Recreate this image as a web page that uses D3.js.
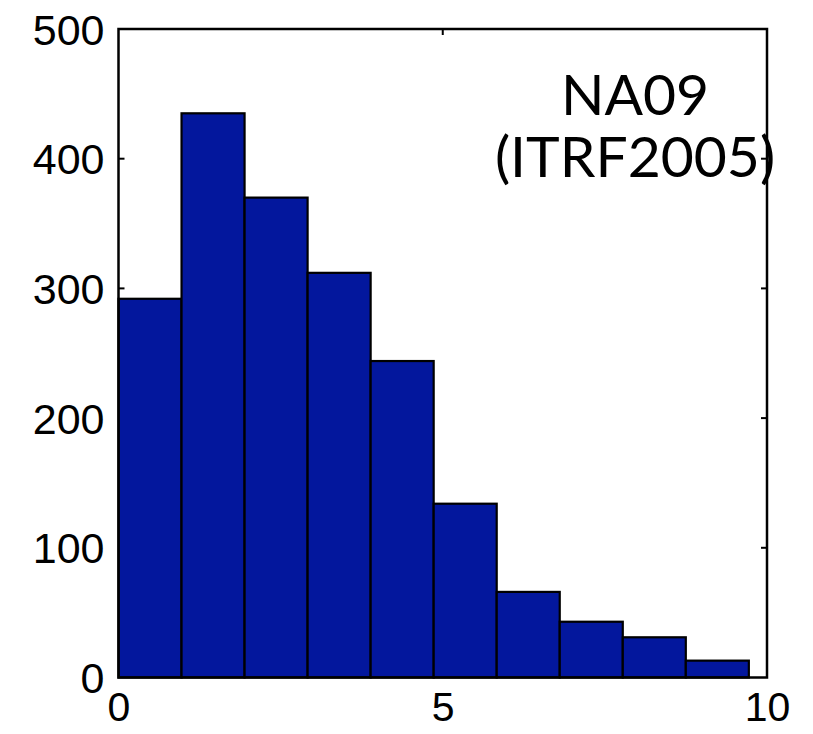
<!DOCTYPE html>
<html>
<head>
<meta charset="utf-8">
<script src="https://cdn.jsdelivr.net/npm/d3@7"></script>
<style>
  body { margin: 0; background: #fff; }
  .tick text { font-family: "Liberation Sans", Arial, sans-serif; }
</style>
</head>
<body>
<div id="chart"></div>
<script>
// histogram counts, bin width ~0.972 starting at 0
const binStart = 0,
    binWidth = 0.972;
const counts = [292, 435, 370, 312, 244, 134, 66, 43, 31, 13];
const xTicks = [0, 5, 10];
const yTicks = [0, 100, 200, 300, 400, 500];
const labelLines = ["NA09", "(ITRF2005)"];

const width = 813,
    height = 734;
const margin = {top: 29, right: 46, bottom: 56.5, left: 118.5};

let svg = d3.select('#chart').append('svg')
    .attr('width', width)
    .attr('height', height);

let x = d3.scaleLinear()
    .domain([0, 10])
    .range([margin.left, width - margin.right]);

let y = d3.scaleLinear()
    .domain([0, 500])
    .range([height - margin.bottom, margin.top]);

const bins = counts.map((c, i) => ({
    x0: binStart + i * binWidth,
    x1: binStart + (i + 1) * binWidth,
    value: c
}));

const tickLen = 6;

// inner ticks (matlab style) drawn first so bars sit on top
let g = svg.append('g');

g.selectAll('.ytl')
    .data(yTicks.slice(1, -1))
    .enter().append('line')
    .attr('x1', x(0)).attr('x2', x(0) + tickLen)
    .attr('y1', d => y(d)).attr('y2', d => y(d))
    .attr('stroke', '#000').attr('stroke-width', 2);

g.selectAll('.ytr')
    .data(yTicks.slice(1, -1))
    .enter().append('line')
    .attr('x1', x(10)).attr('x2', x(10) - tickLen)
    .attr('y1', d => y(d)).attr('y2', d => y(d))
    .attr('stroke', '#000').attr('stroke-width', 2);

g.selectAll('.xtt')
    .data(xTicks.slice(1, -1))
    .enter().append('line')
    .attr('x1', d => x(d)).attr('x2', d => x(d))
    .attr('y1', y(500)).attr('y2', y(500) + tickLen)
    .attr('stroke', '#000').attr('stroke-width', 2);

g.selectAll('.xtb')
    .data(xTicks.slice(1, -1))
    .enter().append('line')
    .attr('x1', d => x(d)).attr('x2', d => x(d))
    .attr('y1', y(0)).attr('y2', y(0) - tickLen)
    .attr('stroke', '#000').attr('stroke-width', 2);

// bars
svg.append('g')
    .selectAll('rect')
    .data(bins)
    .enter()
    .append('rect')
    .attr('x', d => x(d.x0))
    .attr('y', d => y(d.value))
    .attr('width', d => x(d.x1) - x(d.x0))
    .attr('height', d => y(0) - y(d.value))
    .attr('fill', '#03179d')
    .attr('stroke', '#000')
    .attr('stroke-width', 2.2);

// box
svg.append('rect')
    .attr('x', x(0))
    .attr('y', y(500))
    .attr('width', x(10) - x(0))
    .attr('height', y(0) - y(500))
    .attr('fill', 'none')
    .attr('stroke', '#000')
    .attr('stroke-width', 2.5);

// axes labels
let yAxis = d3.axisLeft(y).tickValues(yTicks).tickSize(0).tickPadding(14);
let yg = svg.append('g')
    .attr('transform', 'translate(' + x(0) + ',0)')
    .call(yAxis);
yg.select('.domain').remove();
yg.selectAll('text').attr('font-size', 43).attr('fill', '#000').attr('dy', '0.35em');

let xAxis = d3.axisBottom(x).tickValues(xTicks).tickSize(0).tickPadding(14);
let xg = svg.append('g')
    .attr('transform', 'translate(0,' + y(0) + ')')
    .call(xAxis);
xg.select('.domain').remove();
xg.selectAll('text').attr('font-size', 41).attr('fill', '#000').attr('dy', '0.71em');

// station label
svg.append('g')
    .selectAll('text')
    .data(labelLines)
    .enter()
    .append('text')
    .attr('x', 635)
    .attr('y', (d, i) => 115 + i * 62)
    .attr('text-anchor', 'middle')
    .attr('font-family', 'Lato, "Open Sans", sans-serif')
    .attr('font-size', 57)
    .attr('fill', '#000')
    .text(d => d);
</script>
</body>
</html>
